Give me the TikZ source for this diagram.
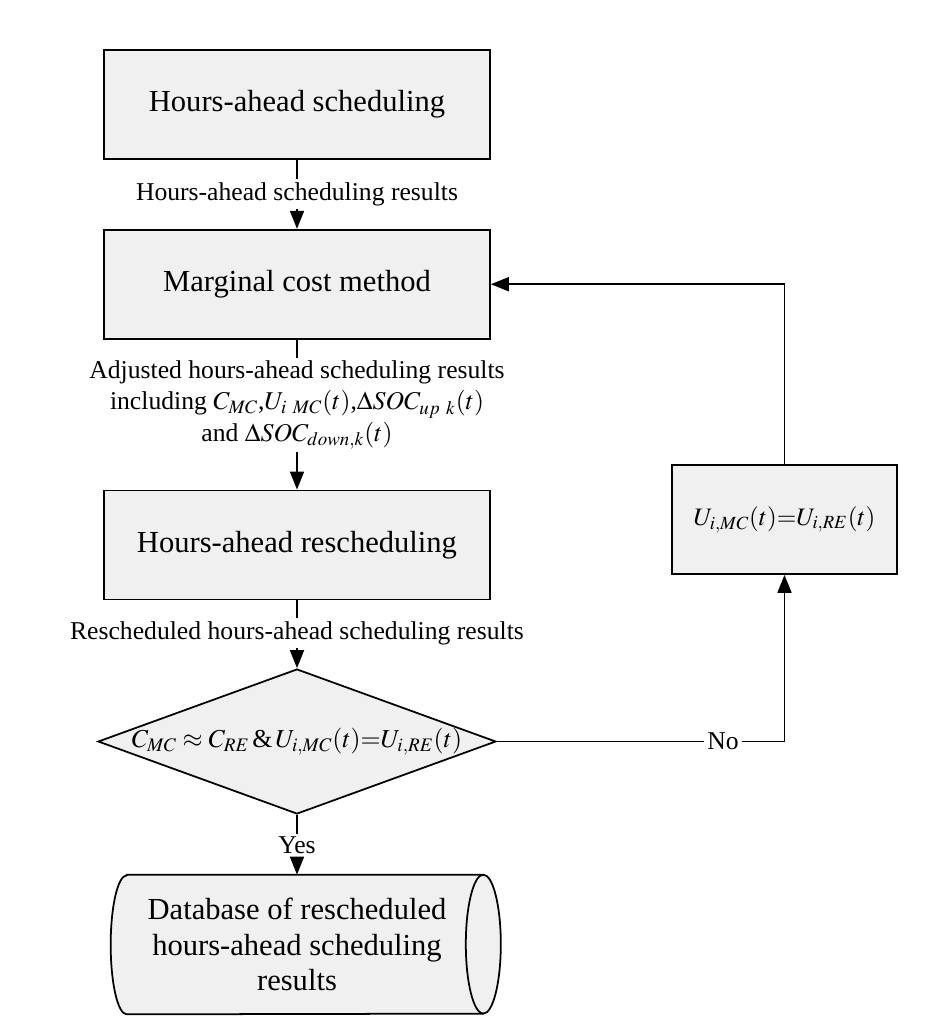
\documentclass[tikz,border=0pt]{standalone}
\usepackage{mathptmx}
\usepackage{fontspec}
\setmainfont{Liberation Serif}
\usetikzlibrary{positioning, shapes.geometric, arrows.meta, backgrounds}
\definecolor{boxgray}{RGB}{241,240,241}

\begin{document}
\begin{tikzpicture}[x=0.02cm, y=-0.02cm, node distance = 1cm,
  block/.style={draw, line width=1pt, fill=boxgray, minimum width=7.72cm, minimum height=2.18cm, font=\fontsize{17.4}{21}\selectfont},
  lbl/.style={fill=white, inner sep=1.5pt, align=center, font=\fontsize{14.6}{18}\selectfont},
  link/.style={line width=1pt},
  flow/.style={line width=1pt, -{Triangle[length=0.36cm, width=0.28cm]}}]
\useasboundingbox (0,0) rectangle (936,1029);
\node[block] (hab) at (297,104.5) {Hours-ahead scheduling};
\node[block, below=1.38cm of hab] (mcm) {Marginal cost method};
\node[block, below=3cm of mcm] (har) {Hours-ahead rescheduling};
\node[draw, diamond, line width=1pt, fill=boxgray, inner xsep=0pt, inner ysep=-2pt, aspect=2.745, minimum width=7.96cm, minimum height=2.9cm, font=\fontsize{14.7}{18}\selectfont] (cmp) at (297,741.5) {$C_{MC}\approx C_{RE}\,$\&$\,U_{i,MC}(t){=}U_{i,RE}(t)$};
\node[block, minimum width=4.5cm, font=\fontsize{14.3}{18}\selectfont] (upd) at (784.5,519.5) {$U_{i,MC}(t){=}U_{i,RE}(t)$};
\node[align=center, minimum width=7.12cm, minimum height=2.78cm, font=\fontsize{17.4}{20.4}\selectfont] (db) at (297,944.5) {Database of rescheduled\\hours-ahead scheduling\\results};
% labels on the connectors
\node[lbl] (hab2mcm) at (297,194) {Hours-ahead scheduling results};
\node[lbl] (mcm2har) at (297,405) {Adjusted hours-ahead scheduling results\\including $C_{MC}$,$U_{i\ MC}(t)$,$\Delta SOC_{up\ k}(t)$\\and $\Delta SOC_{down,k}(t)$};
\node[lbl] (har2cmp) at (297,633) {Rescheduled hours-ahead scheduling results};
\node[lbl] (yes) at (297,845) {Yes};
\node[lbl] (no) at (cmp.east -| 723,0) {No};
% database outline
\begin{scope}[on background layer]
\draw[link, fill=boxgray] ([xshift=0.16cm]db.north west) -- ([xshift=0.16cm]db.north east) arc[start angle=90, end angle=-90, x radius=0.35cm, y radius=1.39cm] -- ([xshift=0.16cm]db.south west) arc[start angle=-90, end angle=-270, x radius=0.32cm, y radius=1.39cm] -- cycle;
\draw[link] ([xshift=0.16cm]db.north east) arc[start angle=90, end angle=270, x radius=0.35cm, y radius=1.39cm];
\end{scope}
% connectors
\draw[link] (hab.south) -- (hab2mcm.north);
\draw[flow] (hab2mcm.south) -- (mcm.north);
\draw[link] (mcm.south) -- (mcm2har.north);
\draw[flow] (mcm2har.south) -- (har.north);
\draw[link] (har.south) -- (har2cmp.north);
\draw[flow] (har2cmp.south) -- (cmp.north);
\draw[link] (cmp.south) -- (yes.north);
\draw[flow] (yes.south) -- (yes.south |- db.north);
\draw[link] (cmp.east) -- (no.west);
\draw[flow] (no.east) -| (upd.south);
\draw[flow] (upd.north) |- (mcm.east);
\end{tikzpicture}
\end{document}
